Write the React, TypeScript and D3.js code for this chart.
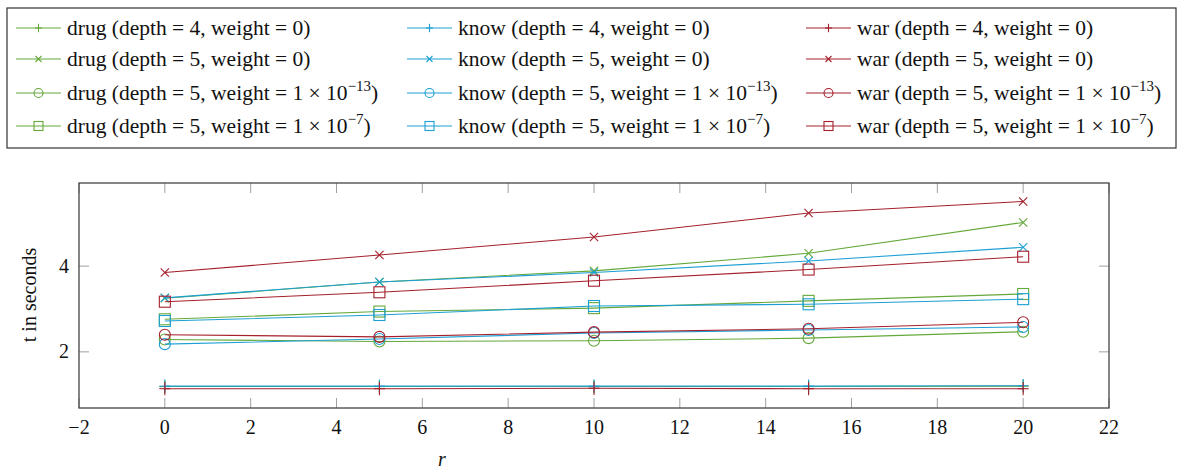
import React from "react";
import * as d3 from "d3";

// ---- data ----
const rValues = [0, 5, 10, 15, 20];
const datasets = ["drug", "know", "war"];
const configs = [
  { depth: 4, weight: "0", exp: null, marker: "plus" },
  { depth: 5, weight: "0", exp: null, marker: "cross" },
  { depth: 5, weight: "1e", exp: "−13", marker: "circle" },
  { depth: 5, weight: "1e", exp: "−7", marker: "square" },
];
const drugD4W0 = [1.19, 1.19, 1.19, 1.19, 1.2];
const knowD4W0 = [1.2, 1.2, 1.2, 1.2, 1.21];
const warD4W0 = [1.14, 1.14, 1.15, 1.14, 1.14];
const drugD5W0 = [3.25, 3.63, 3.89, 4.3, 5.02];
const knowD5W0 = [3.26, 3.63, 3.85, 4.12, 4.44];
const warD5W0 = [3.85, 4.26, 4.68, 5.24, 5.51];
const drugD5W13 = [2.29, 2.24, 2.26, 2.32, 2.47];
const knowD5W13 = [2.18, 2.3, 2.44, 2.51, 2.58];
const warD5W13 = [2.4, 2.35, 2.46, 2.54, 2.69];
const drugD5W7 = [2.76, 2.94, 3.02, 3.19, 3.35];
const knowD5W7 = [2.72, 2.86, 3.07, 3.11, 3.23];
const warD5W7 = [3.17, 3.39, 3.66, 3.92, 4.22];
const xTicks = [-2, 0, 2, 4, 6, 8, 10, 12, 14, 16, 18, 20, 22];
const yTicks = [2, 4];
const xDomain = [-2, 22];
const yDomain = [0.69, 5.94];

const seriesValues: Record<string, number[][]> = {
  drug: [drugD4W0, drugD5W0, drugD5W13, drugD5W7],
  know: [knowD4W0, knowD5W0, knowD5W13, knowD5W7],
  war: [warD4W0, warD5W0, warD5W13, warD5W7],
};

const colors: Record<string, string> = {
  drug: "#65a83a",
  know: "#1d9fd4",
  war: "#a5202c",
};

const FONT = "Liberation Serif, Times New Roman, Tinos, Times, DejaVu Serif, serif";
const FS = 20;
const LFS = 21.5;

function Marker({ type, x, y, color, s }: { type: string; x: number; y: number; color: string; s: number }) {
  const sw = 1.1;
  if (type === "plus") {
    return (
      <g stroke={color} strokeWidth={sw} fill="none">
        <line x1={x - s} x2={x + s} y1={y} y2={y} />
        <line x1={x} x2={x} y1={y - s * 1.2} y2={y + s * 1.2} />
      </g>
    );
  }
  if (type === "cross") {
    const c = s * 0.75;
    return (
      <g stroke={color} strokeWidth={sw} fill="none">
        <line x1={x - c} x2={x + c} y1={y - c} y2={y + c} />
        <line x1={x - c} x2={x + c} y1={y + c} y2={y - c} />
      </g>
    );
  }
  if (type === "circle") {
    return <circle cx={x} cy={y} r={s} stroke={color} strokeWidth={sw} fill="none" />;
  }
  return <rect x={x - s} y={y - s} width={2 * s} height={2 * s} stroke={color} strokeWidth={sw} fill="none" />;
}

const textStyle: React.CSSProperties = { fontFamily: FONT, fontSize: FS };

function LegendLabel({ name, cfg, x, y }: { name: string; cfg: any; x: number; y: number }) {
  return (
    <text x={x} y={y} style={{ fontFamily: FONT, fontSize: LFS }} fill="#111">
      {`${name} (depth = ${cfg.depth}, weight = `}
      {cfg.exp ? (
        <>
          {"1 × 10"}
          <tspan dy={-9} style={{ fontSize: 15 }}>{cfg.exp}</tspan>
          <tspan dy={9}>{")"}</tspan>
        </>
      ) : (
        "0)"
      )}
    </text>
  );
}

export default function App() {
  const W = 1179;
  const H = 470;
  const left = 79, right = 1109, top = 183, bottom = 408;
  const x = d3.scaleLinear().domain(xDomain).range([left, right]);
  const y = d3.scaleLinear().domain(yDomain).range([bottom, top]);
  const line = d3
    .line<number>()
    .x((_, i) => x(rValues[i]))
    .y((d) => y(d));

  const tickLen = 10;
  const legendCols = [16, 407, 806];
  const legendRows = [28, 59, 93, 126];
  const plotSize: Record<string, number> = { plus: 5.5, cross: 5.5, circle: 5.5, square: 5.5 };
  const legSize: Record<string, number> = { plus: 3.5, cross: 4, circle: 4.5, square: 4.5 };

  return (
    <svg width={W} height={H} style={{ position: "absolute", left: 0, top: 0, background: "#fff" }}>
      {/* legend */}
      <rect x={7} y={8} width={1169} height={140} fill="#fff" stroke="#333" strokeWidth={1.2} />
      {datasets.map((ds, ci) =>
        configs.map((cfg, ri) => {
          const lx = legendCols[ci];
          const ly = legendRows[ri];
          return (
            <g key={`leg-${ds}-${ri}`}>
              <line x1={lx} x2={lx + 45} y1={ly} y2={ly} stroke={colors[ds]} strokeWidth={1.1} />
              <Marker type={cfg.marker} x={lx + 22.5} y={ly} color={colors[ds]} s={legSize[cfg.marker]} />
              <LegendLabel name={ds} cfg={cfg} x={lx + 51} y={ly + 6.5} />
            </g>
          );
        })
      )}

      {/* ticks */}
      {xTicks.map((t) => (
        <g key={`xt${t}`} stroke="#a0a0a0" strokeWidth={1}>
          <line x1={x(t)} x2={x(t)} y1={bottom} y2={bottom - tickLen} />
          <line x1={x(t)} x2={x(t)} y1={top} y2={top + tickLen} />
        </g>
      ))}
      {yTicks.map((t) => (
        <g key={`yt${t}`} stroke="#a0a0a0" strokeWidth={1}>
          <line x1={left} x2={left + tickLen} y1={y(t)} y2={y(t)} />
          <line x1={right} x2={right - tickLen} y1={y(t)} y2={y(t)} />
        </g>
      ))}

      {/* series */}
      {configs.map((cfg, ri) =>
        datasets.map((ds) => {
          const vals = seriesValues[ds][ri];
          return (
            <g key={`s-${ds}-${ri}`}>
              <path d={line(vals) || ""} fill="none" stroke={colors[ds]} strokeWidth={1.1} />
              {vals.map((v, i) => (
                <Marker key={i} type={cfg.marker} x={x(rValues[i])} y={y(v)} color={colors[ds]} s={plotSize[cfg.marker]} />
              ))}
            </g>
          );
        })
      )}

      {/* frame */}
      <rect x={left} y={top} width={right - left} height={bottom - top} fill="none" stroke="#444" strokeWidth={1.3} />

      {/* tick labels */}
      {xTicks.map((t) => (
        <text key={`xl${t}`} x={x(t)} y={434} textAnchor="middle" style={textStyle} fill="#111">
          {t < 0 ? `−${Math.abs(t)}` : `${t}`}
        </text>
      ))}
      {yTicks.map((t) => (
        <text key={`yl${t}`} x={69} y={y(t) + 6.5} textAnchor="end" style={textStyle} fill="#111">
          {t}
        </text>
      ))}

      {/* axis labels */}
      <text x={442} y={466} textAnchor="middle" style={{ ...textStyle, fontStyle: "italic" }} fill="#111">
        r
      </text>
      <text transform={`translate(36, 295) rotate(-90)`} textAnchor="middle" style={textStyle} fill="#111">
        t in seconds
      </text>
    </svg>
  );
}
